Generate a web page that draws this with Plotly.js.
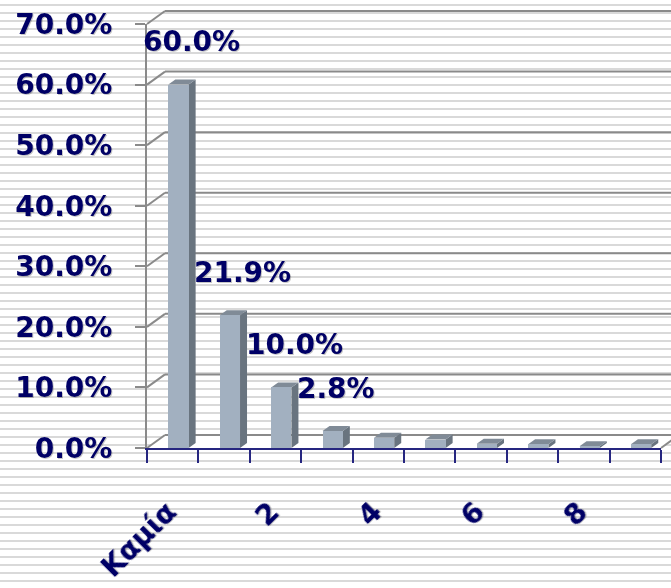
<!DOCTYPE html>
<html>
<head>
<meta charset="utf-8">
<script src="https://cdn.plot.ly/plotly-3.0.1.min.js"></script>
<style>
  html, body { margin: 0; padding: 0; }
  body {
    width: 671px; height: 588px; overflow: hidden;
    background: repeating-linear-gradient(to bottom, #ffffff 0px, #ffffff 4px, #d9d9d9 4px, #d9d9d9 6px, #ffffff 6px, #ffffff 8px);
  }
  #chart { width: 671px; height: 588px; }
  #chart text { filter: drop-shadow(1.5px 1.5px 0.5px rgba(0, 0, 0, 0.22)); }
</style>
</head>
<body>
<div id="chart"></div>
<script>
// ---- data ----
const categories = ['Καμία', '1', '2', '3', '4', '5', '6', '7', '8', '9'];
const values = [60.0, 21.9, 10.0, 2.8, 1.7, 1.4, 0.7, 0.6, 0.3, 0.6];
const showLabel = [true, true, true, true, false, false, false, false, false, false];
const yTicks = [0, 10, 20, 30, 40, 50, 60, 70];
const xLabelIndex = [0, 2, 4, 6, 8];

// ---- styling / geometry ----
const W = 671, H = 588;
const M = { l: 147, r: 10, t: 24, b: 140 };
const plotW = W - M.l - M.r, plotH = H - M.t - M.b;
const yMax = 70;
const navy = '#000066';
const axisNavy = '#262680';
const wallGrey = '#8a8a8a';
const font = { family: 'DejaVu Sans', size: 28, color: navy, weight: 'bold' };

const idx = categories.map((c, i) => i);
const pxPerX = plotW / categories.length;
const pxPerY = plotH / yMax;
const barW = 0.395, barOff = -0.085;
const depthX = 7 / pxPerX, depthY = 5 / pxPerY;   // bar depth
const wallDX = 18, wallDY = 13;                  // wall depth in px

const shapes = [];
// floor
shapes.push({ type: 'path', xref: 'paper', yref: 'paper', layer: 'below',
  xsizemode: 'pixel', ysizemode: 'pixel', xanchor: 0, yanchor: 0,
  path: `M0,0 L${plotW},0 L${plotW + wallDX},${wallDY} L${wallDX},${wallDY} Z`,
  fillcolor: '#ffffff', line: { width: 0 } });
// back wall gridlines + left wall diagonals
yTicks.forEach(t => {
  shapes.push({ type: 'line', xref: 'paper', yref: 'paper', layer: 'below',
    xsizemode: 'pixel', ysizemode: 'pixel', xanchor: 0, yanchor: t / yMax,
    x0: wallDX, x1: wallDX + plotW + 60, y0: wallDY, y1: wallDY,
    line: { color: wallGrey, width: 2 } });
  shapes.push({ type: 'line', xref: 'paper', yref: 'paper', layer: 'below',
    xsizemode: 'pixel', ysizemode: 'pixel', xanchor: 0, yanchor: t / yMax,
    x0: 0, x1: wallDX, y0: 0, y1: wallDY,
    line: { color: wallGrey, width: 2 } });
});
// floor right edge
shapes.push({ type: 'line', xref: 'paper', yref: 'paper', layer: 'below',
  xsizemode: 'pixel', ysizemode: 'pixel', xanchor: 1, yanchor: 0,
  x0: 0, x1: wallDX, y0: 0, y1: wallDY, line: { color: wallGrey, width: 2 } });

// 3D faces of bars
values.forEach((v, i) => {
  const xl = i + barOff, xr = i + barOff + barW;
  shapes.push({ type: 'path', xref: 'x', yref: 'y', layer: 'below',
    path: `M${xr},0 L${xr + depthX},${depthY} L${xr + depthX},${v + depthY} L${xr},${v} Z`,
    fillcolor: '#69747f', line: { width: 0 } });
  shapes.push({ type: 'path', xref: 'x', yref: 'y', layer: 'below',
    path: `M${xl},${v} L${xr},${v} L${xr + depthX},${v + depthY} L${xl + depthX},${v + depthY} Z`,
    fillcolor: '#808b97', line: { width: 0 } });
});

const annotations = [];
values.forEach((v, i) => {
  if (!showLabel[i]) return;
  annotations.push({ x: i, y: v, xref: 'x', yref: 'y', text: v.toFixed(1) + '%',
    showarrow: false, xanchor: 'left', yanchor: 'middle', xshift: -32, yshift: 43, font: font });
});

const trace = {
  type: 'bar', x: idx, y: values, width: barW, offset: barOff,
  marker: { color: '#a2b0c0', line: { width: 0 } },
  hoverinfo: 'skip'
};

const layout = {
  width: W, height: H, margin: M,
  paper_bgcolor: 'rgba(0,0,0,0)', plot_bgcolor: 'rgba(0,0,0,0)',
  showlegend: false, bargap: 0,
  xaxis: {
    range: [-0.5, categories.length - 0.5], showgrid: false, zeroline: false,
    showline: true, linecolor: axisNavy, linewidth: 2,
    tickmode: 'array', tickvals: xLabelIndex, ticktext: xLabelIndex.map(i => categories[i]),
    ticks: '', tickangle: -45, tickfont: font, ticklabelstandoff: 34, ticklabelshift: -5,
    minor: { tickmode: 'array', tickvals: categories.map((c, i) => i - 0.5).concat([categories.length - 0.5]),
             ticks: 'outside', ticklen: 13, tickwidth: 2, tickcolor: axisNavy }
  },
  yaxis: {
    range: [0, yMax], tickmode: 'array', tickvals: yTicks,
    ticktext: yTicks.map(t => t.toFixed(1) + '%'),
    showgrid: false, zeroline: false, showline: true, linecolor: wallGrey, linewidth: 2,
    ticks: 'outside', ticklen: 10, tickwidth: 2, tickcolor: wallGrey,
    tickfont: font, ticklabelstandoff: 17
  },
  shapes: shapes, annotations: annotations
};

Plotly.newPlot('chart', [trace], layout, { displayModeBar: false, staticPlot: true });
</script>
</body>
</html>
